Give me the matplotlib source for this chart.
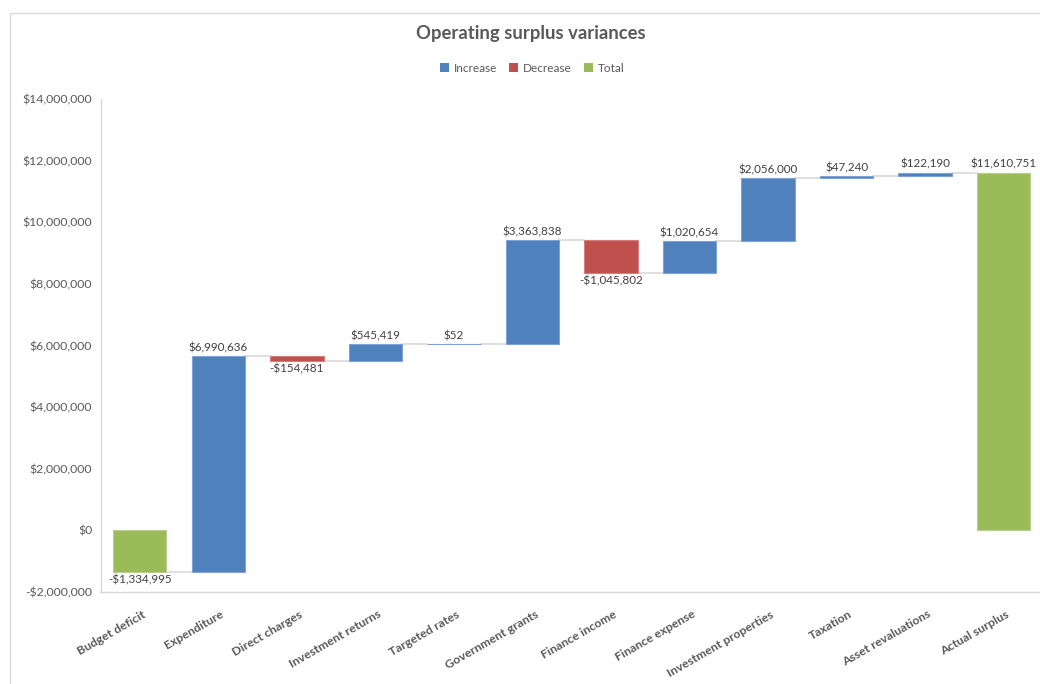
import matplotlib
matplotlib.use("Agg")
import matplotlib.pyplot as plt
from matplotlib.patches import Rectangle, Patch
from matplotlib.ticker import FuncFormatter
from matplotlib.transforms import ScaledTranslation

plt.rcParams['font.family'] = ['Lato', 'DejaVu Sans']

categories = ["Budget deficit", "Expenditure", "Direct charges", "Investment returns",
              "Targeted rates", "Government grants", "Finance income", "Finance expense",
              "Investment properties", "Taxation", "Asset revaluations", "Actual surplus"]
values = [-1334995, 6990636, -154481, 545419, 52, 3363838, -1045802, 1020654,
          2056000, 47240, 122190, 11610751]
is_total = [True, False, False, False, False, False, False, False,
            False, False, False, True]

C_INC = "#4f81bd"
C_DEC = "#c0504d"
C_TOT = "#9bbb59"
EDGE = {C_INC: "#7fa3d4", C_DEC: "#d47f7c", C_TOT: "#b8d08e"}
C_TEXT = "#595959"
C_LINE = "#d9d9d9"


def money(v):
    s = "${:,.0f}".format(abs(v))
    return "-" + s if v < 0 else s


fig = plt.figure(figsize=(10.4, 6.84), dpi=100)
ax = fig.add_axes([100.5 / 1040, (684 - 592) / 684, (1043 - 100.5) / 1040, (592 - 99) / 684])

# chart area border
fig.patches.append(Rectangle((9.5 / 1040, -0.1), 1.2, (684 - 12.5) / 684 + 0.1,
                             transform=fig.transFigure, fill=False,
                             edgecolor=C_LINE, linewidth=1.0))

width = 0.68
running = 0.0
ends = []
for i, (v, tot) in enumerate(zip(values, is_total)):
    if tot:
        bottom, height, color = 0.0, v, C_TOT
        running = v
    else:
        bottom = running
        height = v
        color = C_INC if v >= 0 else C_DEC
        running = running + v
    ax.bar(i, height, bottom=bottom, width=width, color=color,
           edgecolor=EDGE[color], linewidth=0.8, zorder=3)
    top = max(bottom, bottom + height)
    low = min(bottom, bottom + height)
    if v >= 0:
        ax.annotate(money(v), (i, top), xytext=(0, 2), textcoords="offset points",
                    ha="center", va="bottom", fontsize=8.4, color="#404040")
    else:
        ax.annotate(money(v), (i, low), xytext=(0, -2), textcoords="offset points",
                    ha="center", va="top", fontsize=8.4, color="#404040")
    ends.append(running)

# connectors between consecutive bars
for i in range(len(values) - 1):
    ax.plot([i + width / 2, i + 1 - width / 2], [ends[i], ends[i]],
            color=C_LINE, linewidth=1.2, zorder=2)

ax.set_xlim(-0.5, len(values) - 0.5)
ax.set_ylim(-2000000, 14000000)
ax.set_yticks(range(-2000000, 14000001, 2000000))
ax.yaxis.set_major_formatter(FuncFormatter(lambda v, p: money(v)))
ax.set_xticks(range(len(categories)))
ax.set_xticklabels(categories, rotation=30, ha="right", rotation_mode="anchor",
                   fontsize=8.8, fontweight="bold", color=C_TEXT)
ax.tick_params(axis="x", length=0, pad=12)
ax.tick_params(axis="y", length=0, pad=6, labelsize=8.8, labelcolor=C_TEXT)
for lab in ax.get_xticklabels():
    lab.set_transform(lab.get_transform() + ScaledTranslation(0.02, 0, fig.dpi_scale_trans))

for s in ["top", "right"]:
    ax.spines[s].set_visible(False)
for s in ["left", "bottom"]:
    ax.spines[s].set_color(C_LINE)
    ax.spines[s].set_linewidth(1.0)

fig.text(531 / 1040, 1 - 33 / 684, "Operating surplus variances", ha="center", va="center",
         fontsize=13.3, fontweight="bold", color=C_TEXT)

handles = [Patch(facecolor=C_INC, label="Increase"),
           Patch(facecolor=C_DEC, label="Decrease"),
           Patch(facecolor=C_TOT, label="Total")]
fig.legend(handles=handles, loc="center", bbox_to_anchor=(532 / 1040, 1 - 68 / 684),
           ncol=3, frameon=False, fontsize=8.5, labelcolor=C_TEXT,
           handlelength=0.8, handleheight=0.8, handletextpad=0.4, columnspacing=1.0)

fig.savefig("out.png", dpi=100, facecolor="white")
